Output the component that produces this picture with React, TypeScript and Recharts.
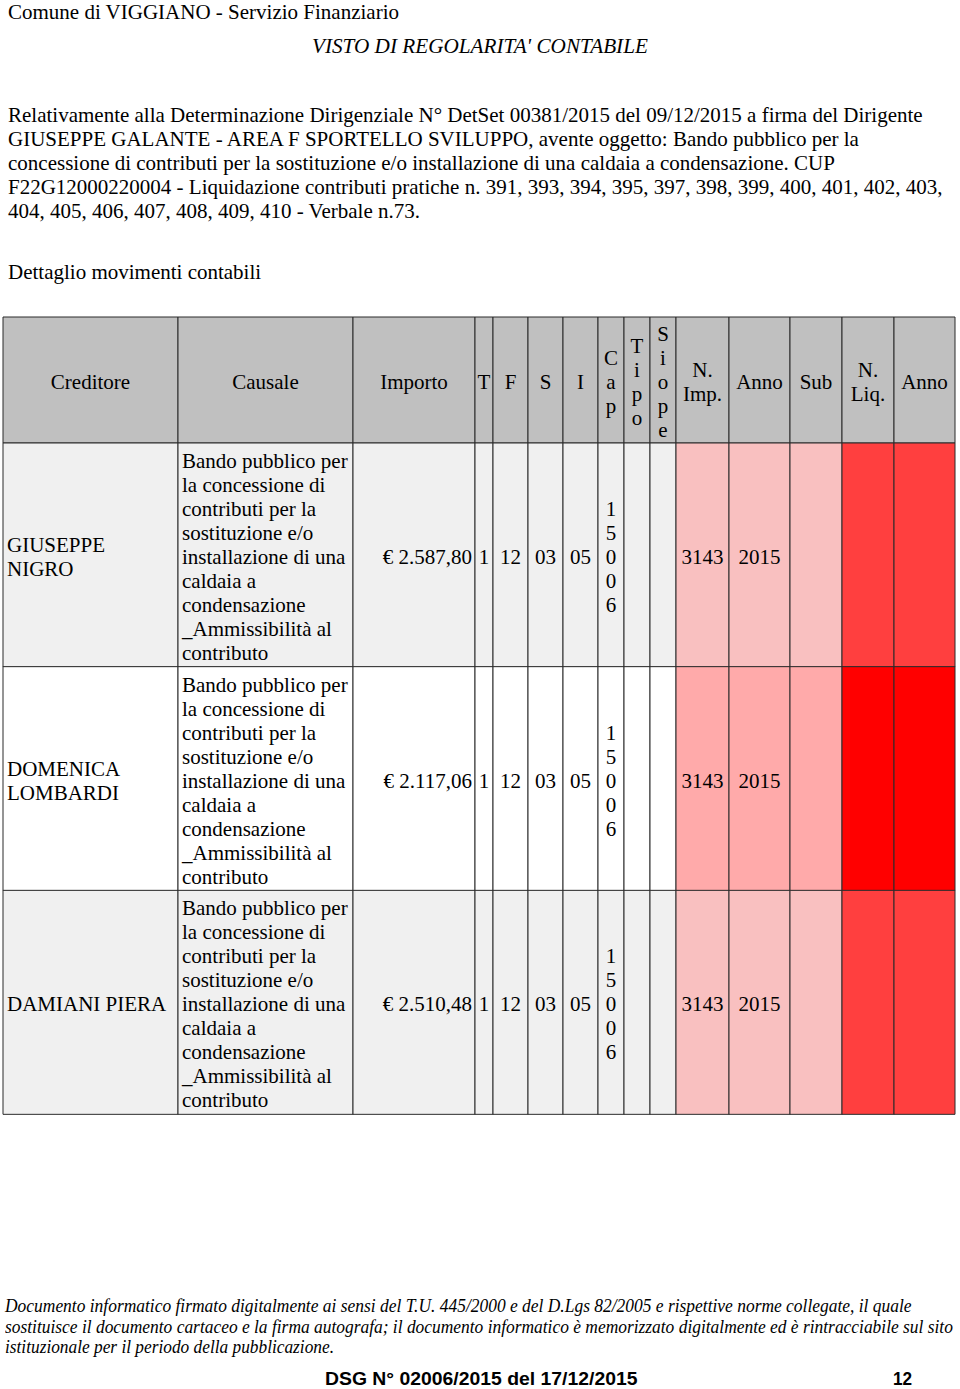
import React, { useLayoutEffect, useRef, useState } from "react";
import { BarChart, Bar, XAxis, YAxis, Cell, LabelList } from "recharts";

// header of the table (line breaks = stacked letters as in the source)
const headerLabels = [
  "Creditore",
  "Causale",
  "Importo",
  "T",
  "F",
  "S",
  "I",
  "C\na\np",
  "T\ni\np\no",
  "S\ni\no\np\ne",
  "N.\nImp.",
  "Anno",
  "Sub",
  "N.\nLiq.",
  "Anno",
];

const creditori = [["GIUSEPPE", "NIGRO"], ["DOMENICA", "LOMBARDI"], ["DAMIANI PIERA"]];
const causaleLines = [
  "Bando pubblico per",
  "la concessione di",
  "contributi per la",
  "sostituzione e/o",
  "installazione di una",
  "caldaia a",
  "condensazione",
  "_Ammissibilità al",
  "contributo",
];
const importi = [2587.8, 2117.06, 2510.48];
const titolo = ["1", "1", "1"];
const funzione = ["12", "12", "12"];
const servizio = ["03", "03", "03"];
const intervento = ["05", "05", "05"];
const capitolo = ["15006", "15006", "15006"];
const tipo = ["", "", ""];
const siope = ["", "", ""];
const nImpegno = ["3143", "3143", "3143"];
const annoImpegno = ["2015", "2015", "2015"];
const subImpegno = ["", "", ""];
const nLiquidazione = ["", "", ""];
const annoLiquidazione = ["", "", ""];

const paragraph = [
  "Relativamente alla Determinazione Dirigenziale N° DetSet 00381/2015 del 09/12/2015 a firma del Dirigente",
  "GIUSEPPE GALANTE - AREA F SPORTELLO SVILUPPO, avente oggetto: Bando pubblico per la",
  "concessione di contributi per la sostituzione e/o installazione di una caldaia a condensazione. CUP",
  "F22G12000220004 - Liquidazione contributi pratiche n. 391, 393, 394, 395, 397, 398, 399, 400, 401, 402, 403,",
  "404, 405, 406, 407, 408, 409, 410 - Verbale n.73.",
];

const footerLines = [
  "Documento informatico firmato digitalmente ai sensi del T.U. 445/2000 e del D.Lgs 82/2005 e rispettive norme collegate, il quale",
  "sostituisce il documento cartaceo e la firma autografa; il documento informatico è memorizzato digitalmente ed è rintracciabile sul sito",
  "istituzionale per il periodo della pubblicazione.",
];

// layout / style constants
const COL_W = [175, 175, 122, 18, 35, 35, 35, 26, 26, 26, 53, 61, 52, 52, 61];
const TOTAL_W = COL_W.reduce((a, b) => a + b, 0);
const ALIGN = ["start", "start", "end", "middle", "middle", "middle", "middle", "middle", "middle", "middle", "middle", "middle", "middle", "middle", "middle"];
const HEADER_FILL = "#c0c0c0";
const BASE_FILL = ["#f0f0f0", "#ffffff", "#f0f0f0"];
const PINK_FILL = ["#f9c0c0", "#ffaaaa", "#f9c0c0"];
const RED_FILL = ["#ff3f3f", "#ff0000", "#ff3f3f"];
const BORDER = "#2b2b2b";
const SERIF = "'Liberation Serif', 'Times New Roman', serif";
const FS = 21;

const fmtEuro = (v: number) => {
  const [i, d] = v.toFixed(2).split(".");
  return "€ " + i.replace(/\B(?=(\d{3})+(?!\d))/g, ".") + "," + d;
};

const cellText = (r: number): string[] => [
  creditori[r].join("\n"),
  causaleLines.join("\n"),
  fmtEuro(importi[r]),
  titolo[r],
  funzione[r],
  servizio[r],
  intervento[r],
  capitolo[r].split("").join("\n"),
  tipo[r],
  siope[r],
  nImpegno[r],
  annoImpegno[r],
  subImpegno[r],
  nLiquidazione[r],
  annoLiquidazione[r],
];

const buildRow = (key: string, texts: string[]) => {
  const row: any = { key };
  COL_W.forEach((w, c) => {
    row[`w${c}`] = w;
    row[`t${c}`] = texts[c];
  });
  return row;
};

const headerRows = [buildRow("h", headerLabels)];
const dataRows = importi.map((_, r) => buildRow(`r${r}`, cellText(r)));

const fillFor = (r: number, c: number) => {
  if (c >= 13) return RED_FILL[r];
  if (c >= 10) return PINK_FILL[r];
  return BASE_FILL[r];
};

const makeLabel = (c: number, header: boolean) => (props: any) => {
  const { value } = props;
  if (!value) return null;
  const x = Number(props.x);
  const y = Number(props.y);
  const width = Number(props.width);
  const height = Number(props.height);
  const lines = String(value).split("\n");
  const anchor = header ? "middle" : ALIGN[c];
  const tx = anchor === "start" ? x + 4 : anchor === "end" ? x + width - 3 : x + width / 2;
  const cy = y + height / 2 + 2;
  const b0 = cy - (lines.length - 1) * 12 + 7;
  return (
    <text x={tx} y={b0} textAnchor={anchor} fontFamily={SERIF} fontSize={FS} fill="#000">
      {lines.map((l, i) => (
        <tspan key={i} x={tx} y={b0 + i * 24}>
          {l}
        </tspan>
      ))}
    </text>
  );
};

function TableChart({ rows, height, top, header }: { rows: any[]; height: number; top: number; header: boolean }) {
  return (
    <div style={{ position: "absolute", left: 2, top: top - 1 }}>
      <BarChart
        layout="vertical"
        width={TOTAL_W + 2}
        height={height + 2}
        data={rows}
        margin={{ top: 1, right: 1, bottom: 1, left: 1 }}
        barCategoryGap={0}
        barGap={0}
      >
        <XAxis type="number" domain={[0, TOTAL_W]} hide />
        <YAxis type="category" dataKey="key" hide />
        {COL_W.map((_, c) => (
          <Bar key={c} dataKey={`w${c}`} stackId="t" stroke={BORDER} strokeWidth={1} isAnimationActive={false}>
            {rows.map((_, r) => (
              <Cell key={r} fill={header ? HEADER_FILL : fillFor(r, c)} />
            ))}
            <LabelList dataKey={`t${c}`} content={makeLabel(c, header)} />
          </Bar>
        ))}
      </BarChart>
    </div>
  );
}

function FitLine({ text, left, top, width, style }: { text: string; left: number; top: number; width: number; style: any }) {
  const ref = useRef<HTMLSpanElement>(null);
  const [k, setK] = useState(1);
  useLayoutEffect(() => {
    if (ref.current) {
      const w = ref.current.offsetWidth;
      if (w > 0) setK(width / w);
    }
  }, [text, width]);
  return (
    <span
      ref={ref}
      style={{
        position: "absolute",
        left,
        top,
        whiteSpace: "nowrap",
        transform: `scaleX(${k})`,
        transformOrigin: "0 0",
        ...style,
      }}
    >
      {text}
    </span>
  );
}

export default function App() {
  const serif = { fontFamily: SERIF, fontSize: FS, lineHeight: "24px", color: "#000" };
  const footer = { fontFamily: SERIF, fontSize: 18, lineHeight: "21px", fontStyle: "italic", color: "#000" };
  const narrowBold = {
    fontFamily: "'Liberation Sans Narrow', 'Liberation Sans', Arial, sans-serif",
    fontSize: 19,
    lineHeight: "22px",
    fontWeight: "bold",
    color: "#000",
  };
  return (
    <div style={{ position: "absolute", left: 0, top: 0, width: 960, height: 1389, background: "#fff", overflow: "hidden" }}>
      <div style={{ position: "absolute", left: 8, top: 0, whiteSpace: "nowrap", ...serif }}>
        Comune di VIGGIANO - Servizio Finanziario
      </div>
      <FitLine text="VISTO DI REGOLARITA' CONTABILE" left={312} top={34} width={336} style={{ ...serif, fontStyle: "italic" }} />
      {paragraph.map((l, i) => (
        <div key={i} style={{ position: "absolute", left: 8, top: 103 + i * 24, whiteSpace: "nowrap", ...serif }}>
          {l}
        </div>
      ))}
      <div style={{ position: "absolute", left: 8, top: 260, whiteSpace: "nowrap", ...serif }}>
        Dettaglio movimenti contabili
      </div>

      <TableChart rows={headerRows} height={126} top={317} header />
      <TableChart rows={dataRows} height={671} top={443} header={false} />

      <FitLine text={footerLines[0]} left={5} top={1296} width={907} style={footer} />
      <FitLine text={footerLines[1]} left={5} top={1317} width={948} style={footer} />
      <FitLine text={footerLines[2]} left={5} top={1337} width={329} style={footer} />
      <FitLine text="DSG N° 02006/2015 del 17/12/2015" left={325} top={1368} width={313} style={narrowBold} />
      <FitLine text="12" left={893} top={1368} width={19} style={narrowBold} />
    </div>
  );
}
